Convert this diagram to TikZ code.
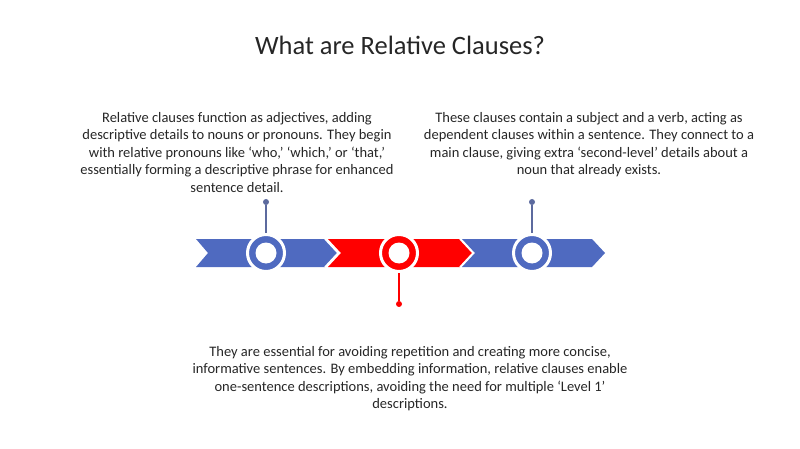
\documentclass[tikz,border=0pt]{standalone}
\usepackage{fontspec}
\setmainfont{Carlito}
\begin{document}
\begin{tikzpicture}[x=1pt,y=-1pt,
  txt/.style={align=center,font=\fontsize{14.5}{17.5}\selectfont,text=black!85,inner sep=0pt},
  ring/.style={circle,draw=white,line width=3pt,minimum size=37pt,fill=#1,inner sep=0pt},
  hole/.style={circle,fill=white,minimum size=21pt,inner sep=0pt},
  dot/.style={circle,fill=#1,minimum size=6pt,inner sep=0pt}]
\useasboundingbox (0,0) rectangle (800,449);
\definecolor{bl}{HTML}{4F6AC0}
\definecolor{stem}{HTML}{5C6A9E}
\node[font=\fontsize{26.5}{30}\selectfont,text=black!85] (title) at (400,45) {What are Relative Clauses?};
% chevrons
\fill[bl] (196,239) -- (325,239) -- (338,253) -- (325,267) -- (196,267) -- (208,253) -- cycle;
\fill[red] (328,239) -- (460,239) -- (473,253) -- (460,267) -- (328,267) -- (341,253) -- cycle;
\fill[bl] (462,239) -- (592,239) -- (605,253) -- (592,267) -- (462,267) -- (475,253) -- cycle;
\draw[white,line width=1.5pt] (325,239) -- (338,253) -- (325,267);
\draw[white,line width=1.5pt] (460,239) -- (473,253) -- (460,267);
% stems
\node[dot=stem] (d1) at (266,202) {};
\node[dot=stem] (d3) at (532,202) {};
\node[dot=red] (d2) at (399,304) {};
\node[ring=bl] (c1) at (266,253) {};
\node[ring=red] (c2) at (399,253) {};
\node[ring=bl] (c3) at (532,253) {};
\draw[stem,line width=1.5pt] (d1) -- (c1);
\draw[stem,line width=1.5pt] (d3) -- (c3);
\draw[red,line width=1.5pt] (d2) -- (c2);
\node[hole] at (c1) {};
\node[hole] at (c2) {};
\node[hole] at (c3) {};
\node[txt] (t1) at (237,152.5) {Relative clauses function as adjectives, adding\\descriptive details to nouns or pronouns. They begin\\with relative pronouns like `who,' `which,' or `that,'\\essentially forming a descriptive phrase for enhanced\\sentence detail.};
\node[txt] (t2) at (589,144.5) {These clauses contain a subject and a verb, acting as\\dependent clauses within a sentence. They connect to a\\main clause, giving extra `second-level' details about a\\noun that already exists.};
\node[txt] (t3) at (410,378.5) {They are essential for avoiding repetition and creating more concise,\\informative sentences. By embedding information, relative clauses enable\\one-sentence descriptions, avoiding the need for multiple `Level 1'\\descriptions.};
\end{tikzpicture}
\end{document}
